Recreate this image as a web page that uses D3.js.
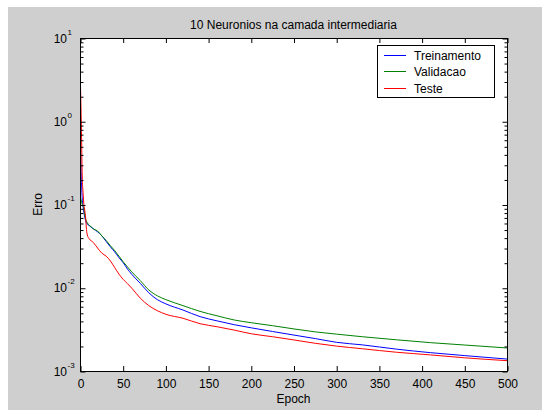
<!DOCTYPE html>
<html>
<head>
<meta charset="utf-8">
<script src="https://cdn.jsdelivr.net/npm/d3@7"></script>
<style>
  html, body { margin: 0; padding: 0; background: #ffffff; }
  svg { display: block; }
  text { font-family: "Liberation Sans", Arial, sans-serif; fill: #000; }
</style>
</head>
<body>
<svg id="chart" width="542" height="410"></svg>
<script>
// Training error per epoch (log scale), three data splits
const epochs = [0, 1, 2, 3, 4, 5, 6, 7, 8, 10, 15, 20, 25, 30, 35, 40, 45, 50, 55, 60, 70, 80, 90, 100,
  120, 140, 160, 180, 200, 225, 250, 275, 300, 330, 370, 410, 450, 500];

const treinamento = [0.48, 0.2, 0.12, 0.095, 0.08, 0.07, 0.064, 0.06, 0.058, 0.056, 0.051, 0.047, 0.042,
  0.036, 0.031, 0.027, 0.023, 0.020, 0.0168, 0.0145, 0.0113, 0.0087, 0.0072, 0.0064,
  0.0054, 0.0045, 0.0040, 0.0036, 0.0033, 0.00298, 0.0027, 0.00245, 0.00221, 0.00206, 0.00183, 0.00166, 0.00153, 0.00139];

const validacao = [0.12, 0.11, 0.10, 0.095, 0.09, 0.075, 0.067, 0.063, 0.06, 0.057, 0.051, 0.048, 0.042,
  0.037, 0.032, 0.028, 0.024, 0.0205, 0.0178, 0.0155, 0.0122, 0.0094, 0.0080, 0.0072,
  0.0061, 0.0052, 0.0046, 0.0041, 0.0038, 0.0035, 0.0032, 0.00295, 0.00277, 0.00258, 0.00237, 0.00219, 0.00205, 0.00189];

const teste = [2.7, 0.9, 0.22, 0.14, 0.10, 0.085, 0.07, 0.05, 0.043, 0.039, 0.035, 0.030, 0.026,
  0.024, 0.021, 0.0175, 0.0146, 0.0126, 0.0112, 0.0099, 0.0075, 0.0061, 0.0053, 0.0048,
  0.0043, 0.0037, 0.0034, 0.0031, 0.0028, 0.00258, 0.00236, 0.00215, 0.00199, 0.00185, 0.00168, 0.00156, 0.00144, 0.00133];

const xTicks = [0, 50, 100, 150, 200, 250, 300, 350, 400, 450, 500];
const yMajor = [1e-3, 1e-2, 1e-1, 1e0, 1e1];
const yExponents = ["-3", "-2", "-1", "0", "1"];

const seriesNames = ["Treinamento", "Validacao", "Teste"];
const seriesColors = ["#0000ff", "#008000", "#ff0000"];
const seriesValues = [treinamento, validacao, teste];

const svg = d3.select("#chart");

// figure background
svg.append("rect").attr("x", 8).attr("y", 7).attr("width", 534).attr("height", 403).attr("fill", "#cfcfcf");

const L = 80, R = 507, T = 38, B = 371;
const x = d3.scaleLinear().domain([0, 500]).range([L, R]);
const y = d3.scaleLog().domain([1e-3, 10]).range([B, T]);

// plot area
svg.append("rect").attr("x", L).attr("y", T).attr("width", R - L).attr("height", B - T).attr("fill", "#fff");

// clip for data lines
svg.append("clipPath").attr("id", "plotclip")
  .append("rect").attr("x", L).attr("y", T - 1).attr("width", R - L + 1).attr("height", B - T + 2);

const line = d3.line().x(d => x(d[0])).y(d => y(d[1])).curve(d3.curveMonotoneX);
const lines = svg.append("g").attr("clip-path", "url(#plotclip)").attr("transform", "translate(0.5,0)");
seriesValues.forEach((vals, i) => {
  lines.append("path")
    .datum(epochs.map((e, k) => [e, vals[k]]))
    .attr("fill", "none")
    .attr("stroke", seriesColors[i])
    .attr("stroke-width", 1)
    .attr("d", line);
});

// minor log ticks
const yMinor = [];
for (let p = -3; p < 1; p++) for (let m = 2; m <= 9; m++) yMinor.push(m * Math.pow(10, p));

function styleAxis(g) {
  g.select(".domain").remove();
  g.selectAll(".tick line").attr("stroke", "#000");
  g.selectAll("text").attr("font-family", "Liberation Sans, Arial, sans-serif").attr("font-size", 12).attr("fill", "#000");
}

// x axes (bottom with labels, top without)
svg.append("g").attr("transform", `translate(0.5,${B})`)
  .call(d3.axisBottom(x).tickValues(xTicks).tickSizeInner(-5).tickSizeOuter(0).tickPadding(8).tickFormat(d3.format("d")))
  .call(styleAxis);
svg.append("g").attr("transform", `translate(0.5,${T})`)
  .call(d3.axisTop(x).tickValues(xTicks).tickSizeInner(-5).tickSizeOuter(0).tickFormat(""))
  .call(styleAxis);

// y axes, major and minor ticks on both sides
svg.append("g").attr("transform", `translate(${L + 0.5},0.5)`)
  .call(d3.axisLeft(y).tickValues(yMinor).tickSizeInner(-3).tickSizeOuter(0).tickFormat(""))
  .call(styleAxis);
svg.append("g").attr("transform", `translate(${L + 0.5},0.5)`)
  .call(d3.axisLeft(y).tickValues(yMajor).tickSizeInner(-5).tickSizeOuter(0).tickFormat(""))
  .call(styleAxis);
svg.append("g").attr("transform", `translate(${R + 0.5},0.5)`)
  .call(d3.axisRight(y).tickValues(yMinor).tickSizeInner(-3).tickSizeOuter(0).tickFormat(""))
  .call(styleAxis);
svg.append("g").attr("transform", `translate(${R + 0.5},0.5)`)
  .call(d3.axisRight(y).tickValues(yMajor).tickSizeInner(-5).tickSizeOuter(0).tickFormat(""))
  .call(styleAxis);

// y tick labels as 10 with superscript exponent
const yLab = svg.append("g");
yMajor.forEach((v, i) => {
  const yy = y(v);
  yLab.append("text").attr("x", 67).attr("y", yy + 4.5).attr("text-anchor", "end")
    .attr("font-size", 12).text("10");
  yLab.append("text").attr("x", 67.5).attr("y", yy - 3.5).attr("text-anchor", "start")
    .attr("font-size", 8).text(yExponents[i]);
});

// plot box
svg.append("rect").attr("x", L + 0.5).attr("y", T + 0.5).attr("width", R - L).attr("height", B - T)
  .attr("fill", "none").attr("stroke", "#000").attr("stroke-width", 1);

// title and axis labels
svg.append("text").attr("x", (L + R) / 2).attr("y", 28.5).attr("text-anchor", "middle")
  .attr("font-size", 12).text("10 Neuronios na camada intermediaria");
svg.append("text").attr("x", (L + R) / 2).attr("y", 403).attr("text-anchor", "middle")
  .attr("font-size", 12).text("Epoch");
svg.append("text").attr("transform", `translate(42,${(T + B) / 2}) rotate(-90)`).attr("text-anchor", "middle")
  .attr("font-size", 12).text("Erro");

// legend
const lg = svg.append("g");
lg.append("rect").attr("x", 377.5).attr("y", 45.5).attr("width", 117).attr("height", 52)
  .attr("fill", "#fff").attr("stroke", "#000").attr("stroke-width", 1);
seriesNames.forEach((name, i) => {
  const ly = 54.5 + i * 16.5;
  lg.append("line").attr("x1", 384).attr("x2", 406).attr("y1", Math.round(ly) + 0.5).attr("y2", Math.round(ly) + 0.5)
    .attr("stroke", seriesColors[i]).attr("stroke-width", 1);
  lg.append("text").attr("x", 414).attr("y", ly + 5).attr("font-size", 12).text(name);
});
</script>
</body>
</html>
